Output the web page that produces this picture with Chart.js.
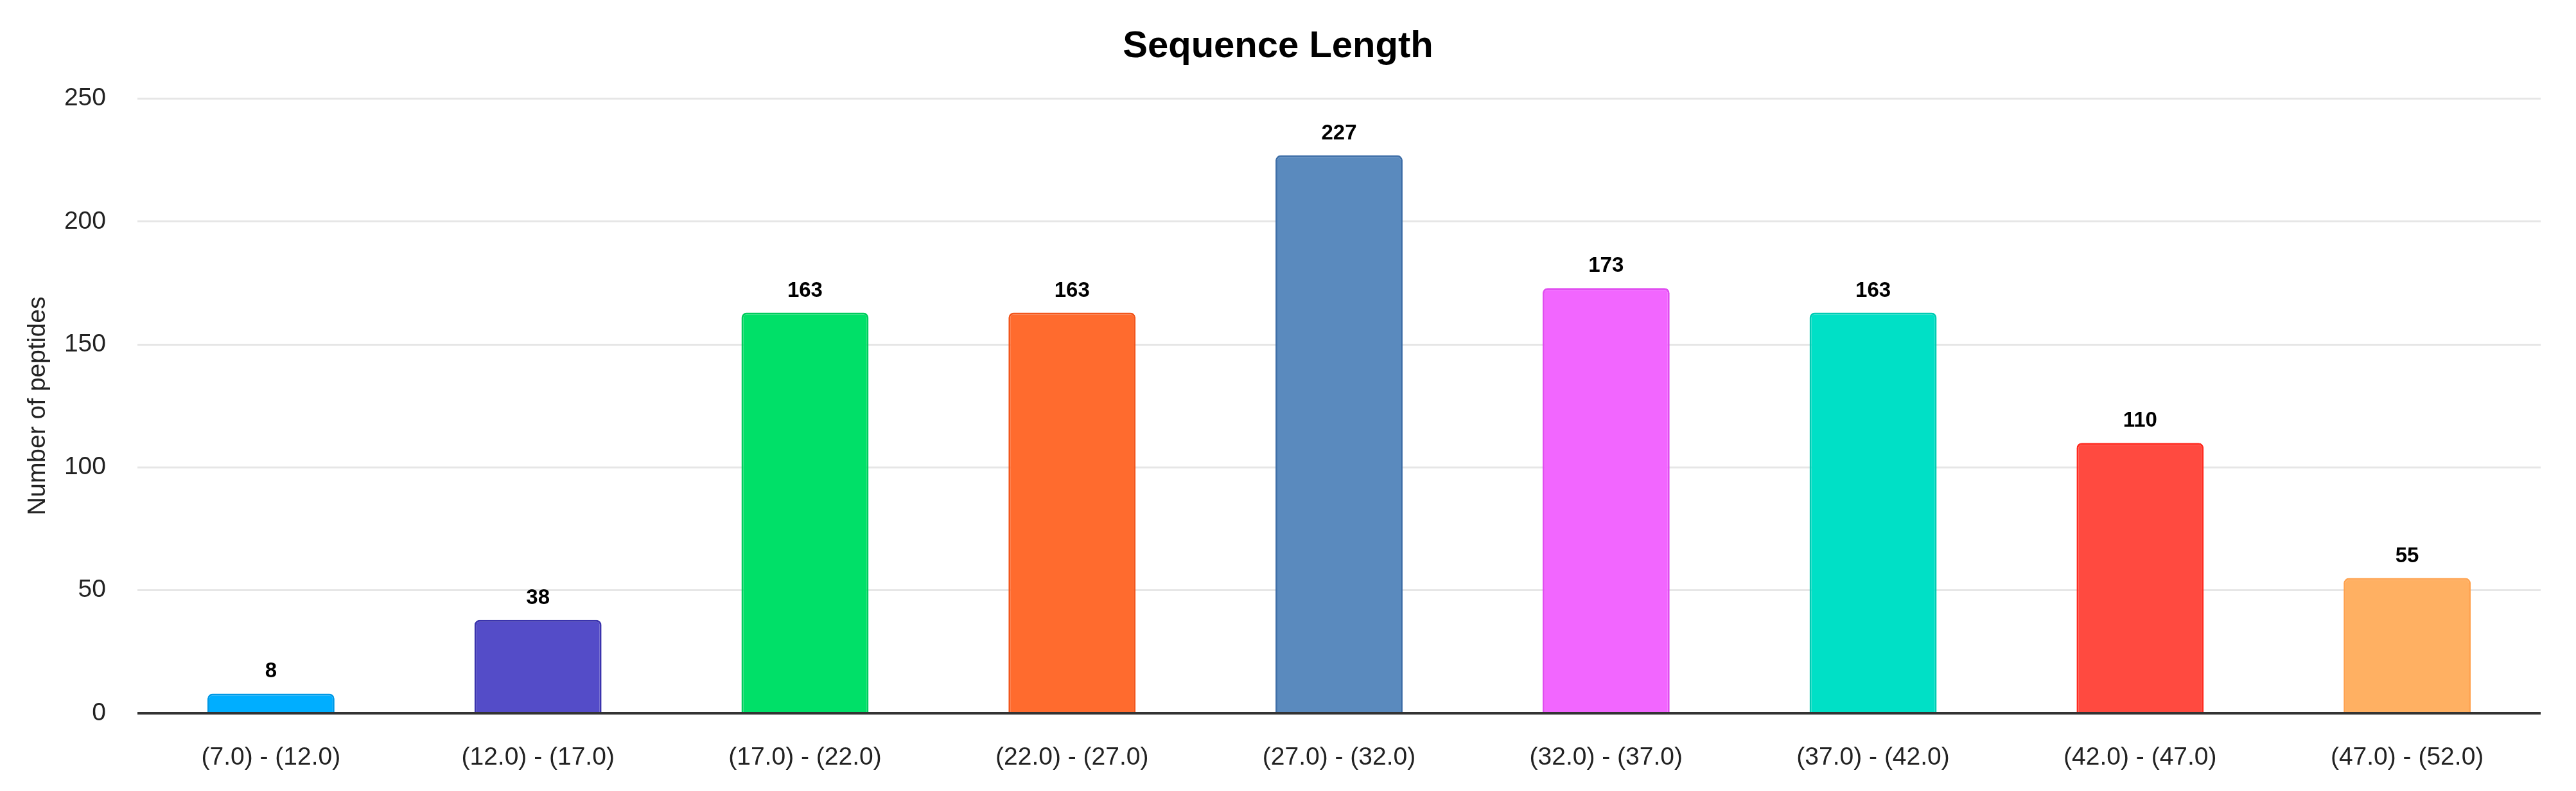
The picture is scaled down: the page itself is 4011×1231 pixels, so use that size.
<!DOCTYPE html>
<html>
<head>
<meta charset="utf-8">
<script src="https://cdn.jsdelivr.net/npm/chart.js@4.4.1/dist/chart.umd.min.js"></script>
<style>
  html, body { margin: 0; padding: 0; background: #fff; }
</style>
</head>
<body>
<canvas id="chart" width="4011" height="1231"></canvas>
<script>
// length bins and peptide counts
const lengthBins = ['(7.0) - (12.0)', '(12.0) - (17.0)', '(17.0) - (22.0)', '(22.0) - (27.0)',
    '(27.0) - (32.0)', '(32.0) - (37.0)', '(37.0) - (42.0)', '(42.0) - (47.0)', '(47.0) - (52.0)'];
const peptideCounts = [8, 38, 163, 163, 227, 173, 163, 110, 55];
const yTicks = [0, 50, 100, 150, 200, 250];

const barColors = ['#00AEFF', '#544CC8', '#00E068', '#FF6B2E', '#5A8ABE', '#F266FF', '#00E0C6', '#FF4A40', '#FFB062'];
const barBorders = ['#0099e6', '#3a33ad', '#00cc5c', '#f2561c', '#3f6fa8', '#e04cf0', '#00ccb4', '#ff2a1f', '#ffa24e'];

const FONT = '"Liberation Sans", Arial, sans-serif';

// draws the count above each bar
const valueLabels = {
    id: 'valueLabels',
    afterDatasetsDraw(chart) {
        const ctx = chart.ctx;
        const meta = chart.getDatasetMeta(0);
        ctx.save();
        ctx.font = 'bold 33px ' + FONT;
        ctx.fillStyle = '#000';
        ctx.textAlign = 'center';
        ctx.textBaseline = 'middle';
        meta.data.forEach((bar, i) => {
            ctx.fillText(String(peptideCounts[i]), bar.x, bar.y - 34);
        });
        ctx.restore();
    }
};

new Chart(document.getElementById('chart'), {
    type: 'bar',
    data: {
        labels: lengthBins,
        datasets: [{
            label: 'Number of peptides',
            data: peptideCounts,
            backgroundColor: barColors,
            borderColor: barBorders,
            borderWidth: 3,
            borderSkipped: 'bottom',
            borderRadius: { topLeft: 8, topRight: 8, bottomLeft: 0, bottomRight: 0 },
            barPercentage: 1,
            categoryPercentage: 0.476,
        }],
    },
    options: {
        responsive: false,
        animation: false,
        layout: {
            padding: { top: 0, left: 24, right: 55, bottom: 0 },
        },
        plugins: {
            legend: { display: false },
            tooltip: { enabled: false },
            title: {
                display: true,
                text: 'Sequence Length',
                color: '#000',
                font: { family: FONT, size: 58, weight: 'bold' },
                padding: { top: 38, bottom: 46 },
            },
        },
        scales: {
            x: {
                grid: { display: false, drawTicks: false },
                border: { display: false },
                afterFit: (s) => { s.height = 121; },
                ticks: {
                    color: '#222',
                    font: { family: FONT, size: 39 },
                    padding: 46,
                    maxRotation: 0,
                    autoSkip: false,
                },
            },
            y: {
                min: yTicks[0],
                max: yTicks[yTicks.length - 1],
                afterBuildTicks: (axis) => { axis.ticks = yTicks.map(v => ({ value: v })); },
                afterFit: (s) => { s.width = 190; },
                grid: {
                    drawTicks: false,
                    lineWidth: (c) => (c.tick && c.tick.value === 0 ? 4 : 3),
                    color: (c) => (c.tick && c.tick.value === 0 ? '#333' : '#e6e6e6'),
                },
                border: { display: false },
                ticks: {
                    color: '#222',
                    font: { family: FONT, size: 39 },
                    padding: 49,
                },
                title: {
                    display: true,
                    text: 'Number of peptides',
                    color: '#222',
                    font: { family: FONT, size: 39 },
                    padding: { top: 12, bottom: 0 },
                },
            },
        },
    },
    plugins: [valueLabels],
});
</script>
</body>
</html>
